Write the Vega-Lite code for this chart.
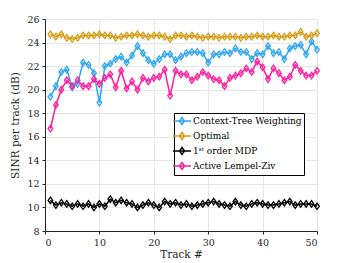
{
  "$schema": "https://vega.github.io/schema/vega-lite/v6.json",
  "autosize": {"type": "none"},
  "width": 272,
  "height": 212,
  "padding": {"left": 45, "top": 19, "right": 33, "bottom": 32},
  "config": {
    "font": "DejaVu Serif",
    "view": {"stroke": "#c8c8c8"},
    "axis": {
      "labelFont": "DejaVu Serif",
      "titleFont": "DejaVu Serif",
      "labelFontSize": 9.5,
      "titleFontSize": 10.5,
      "titleFontWeight": "normal",
      "labelColor": "#262626",
      "titleColor": "#262626",
      "domainColor": "#262626",
      "tickColor": "#262626",
      "tickSize": 3,
      "gridColor": "#e6e6e6",
      "labelPadding": 3
    },
    "legend": {
      "labelFont": "DejaVu Serif"
    }
  },
  "data": {
    "values": [
      {"track": 1, "ctw": 19.4, "opt": 24.7, "mdp": 10.6, "alz": 16.7},
      {"track": 2, "ctw": 20.3, "opt": 24.5, "mdp": 10.2, "alz": 18.7},
      {"track": 3, "ctw": 21.5, "opt": 24.7, "mdp": 10.4, "alz": 20.0},
      {"track": 4, "ctw": 21.7, "opt": 24.4, "mdp": 10.3, "alz": 20.8},
      {"track": 5, "ctw": 20.2, "opt": 24.3, "mdp": 10.1, "alz": 20.3},
      {"track": 6, "ctw": 20.5, "opt": 24.4, "mdp": 10.3, "alz": 20.8},
      {"track": 7, "ctw": 22.3, "opt": 24.6, "mdp": 10.1, "alz": 20.3},
      {"track": 8, "ctw": 22.1, "opt": 24.6, "mdp": 10.3, "alz": 20.3},
      {"track": 9, "ctw": 21.4, "opt": 24.6, "mdp": 10.0, "alz": 20.9},
      {"track": 10, "ctw": 18.9, "opt": 24.7, "mdp": 10.3, "alz": 20.5},
      {"track": 11, "ctw": 22.0, "opt": 24.6, "mdp": 10.1, "alz": 21.0},
      {"track": 12, "ctw": 22.2, "opt": 24.6, "mdp": 10.7, "alz": 21.3},
      {"track": 13, "ctw": 22.6, "opt": 24.4, "mdp": 10.4, "alz": 20.2},
      {"track": 14, "ctw": 22.8, "opt": 24.5, "mdp": 10.6, "alz": 21.6},
      {"track": 15, "ctw": 22.3, "opt": 24.6, "mdp": 10.4, "alz": 20.1},
      {"track": 16, "ctw": 22.9, "opt": 24.6, "mdp": 10.3, "alz": 20.7},
      {"track": 17, "ctw": 23.7, "opt": 24.7, "mdp": 10.0, "alz": 20.0},
      {"track": 18, "ctw": 23.1, "opt": 24.6, "mdp": 10.2, "alz": 21.0},
      {"track": 19, "ctw": 22.5, "opt": 24.5, "mdp": 10.4, "alz": 20.7},
      {"track": 20, "ctw": 22.2, "opt": 24.6, "mdp": 10.2, "alz": 21.0},
      {"track": 21, "ctw": 22.6, "opt": 24.6, "mdp": 10.0, "alz": 21.1},
      {"track": 22, "ctw": 23.0, "opt": 24.5, "mdp": 10.5, "alz": 21.7},
      {"track": 23, "ctw": 23.0, "opt": 24.3, "mdp": 10.3, "alz": 19.5},
      {"track": 24, "ctw": 22.5, "opt": 24.6, "mdp": 10.4, "alz": 21.6},
      {"track": 25, "ctw": 22.8, "opt": 24.6, "mdp": 10.2, "alz": 21.3},
      {"track": 26, "ctw": 23.1, "opt": 24.5, "mdp": 10.3, "alz": 21.3},
      {"track": 27, "ctw": 23.2, "opt": 24.6, "mdp": 10.1, "alz": 20.8},
      {"track": 28, "ctw": 23.2, "opt": 24.5, "mdp": 10.2, "alz": 21.1},
      {"track": 29, "ctw": 23.1, "opt": 24.4, "mdp": 10.3, "alz": 21.5},
      {"track": 30, "ctw": 22.3, "opt": 24.5, "mdp": 10.4, "alz": 21.2},
      {"track": 31, "ctw": 23.0, "opt": 24.5, "mdp": 10.5, "alz": 20.9},
      {"track": 32, "ctw": 23.0, "opt": 24.4, "mdp": 10.3, "alz": 20.8},
      {"track": 33, "ctw": 23.2, "opt": 24.5, "mdp": 10.2, "alz": 20.3},
      {"track": 34, "ctw": 23.1, "opt": 24.5, "mdp": 10.1, "alz": 21.0},
      {"track": 35, "ctw": 23.5, "opt": 24.5, "mdp": 10.5, "alz": 21.2},
      {"track": 36, "ctw": 23.2, "opt": 24.4, "mdp": 10.2, "alz": 21.4},
      {"track": 37, "ctw": 23.2, "opt": 24.5, "mdp": 10.1, "alz": 21.8},
      {"track": 38, "ctw": 22.6, "opt": 24.5, "mdp": 10.3, "alz": 21.5},
      {"track": 39, "ctw": 23.1, "opt": 24.6, "mdp": 10.4, "alz": 22.4},
      {"track": 40, "ctw": 23.0, "opt": 24.5, "mdp": 10.3, "alz": 21.9},
      {"track": 41, "ctw": 23.7, "opt": 24.5, "mdp": 10.2, "alz": 20.9},
      {"track": 42, "ctw": 23.1, "opt": 24.6, "mdp": 10.2, "alz": 21.8},
      {"track": 43, "ctw": 23.2, "opt": 24.5, "mdp": 10.3, "alz": 21.4},
      {"track": 44, "ctw": 22.6, "opt": 24.5, "mdp": 10.4, "alz": 20.8},
      {"track": 45, "ctw": 23.5, "opt": 24.6, "mdp": 10.5, "alz": 21.1},
      {"track": 46, "ctw": 23.7, "opt": 24.6, "mdp": 10.2, "alz": 22.1},
      {"track": 47, "ctw": 23.8, "opt": 24.9, "mdp": 10.3, "alz": 21.6},
      {"track": 48, "ctw": 23.0, "opt": 24.5, "mdp": 10.3, "alz": 21.2},
      {"track": 49, "ctw": 24.1, "opt": 24.6, "mdp": 10.3, "alz": 21.2},
      {"track": 50, "ctw": 23.4, "opt": 24.8, "mdp": 10.1, "alz": 21.6}
    ]
  },
  "transform": [{"fold": ["ctw", "opt", "mdp", "alz"], "as": ["series", "sinr"]}],
  "mark": {
    "type": "line",
    "strokeWidth": 1.5,
    "point": {"shape": "M0,-1L0.72,0L0,1L-0.72,0Z", "filled": false, "size": 42, "strokeWidth": 1.3}
  },
  "encoding": {
    "x": {
      "field": "track", "type": "quantitative",
      "scale": {"domain": [0, 50], "nice": false},
      "axis": {"values": [0, 10, 20, 30, 40, 50], "title": "Track #", "titlePadding": 3}
    },
    "y": {
      "field": "sinr", "type": "quantitative",
      "scale": {"domain": [8, 26], "nice": false, "zero": false},
      "axis": {"values": [8, 10, 12, 14, 16, 18, 20, 22, 24, 26], "title": "SINR per track (dB)", "titlePadding": 6}
    },
    "color": {
      "field": "series", "type": "nominal",
      "scale": {"domain": ["ctw", "opt", "mdp", "alz"], "range": ["#2ea6f2", "#d69c14", "#000000", "#ff1f9e"]},
      "legend": {
        "orient": "none", "legendX": 129, "legendY": 94,
        "title": null,
        "strokeColor": "#000000", "fillColor": "#ffffff",
        "padding": 2,
        "symbolType": "M-1.8,0H1.8M0,-0.7L0.5,0L0,0.7L-0.5,0Z",
        "symbolSize": 100,
        "symbolStrokeWidth": 1.5,
        "labelFont": "DejaVu Serif",
        "labelFontSize": 9,
        "labelColor": "#000000",
        "rowPadding": 1,
        "labelOffset": 5,
        "labelExpr": "datum.value == 'ctw' ? 'Context-Tree Weighting' : datum.value == 'opt' ? 'Optimal' : datum.value == 'mdp' ? '1ˢᵗ order MDP' : 'Active Lempel-Ziv'"
      }
    }
  }
}
